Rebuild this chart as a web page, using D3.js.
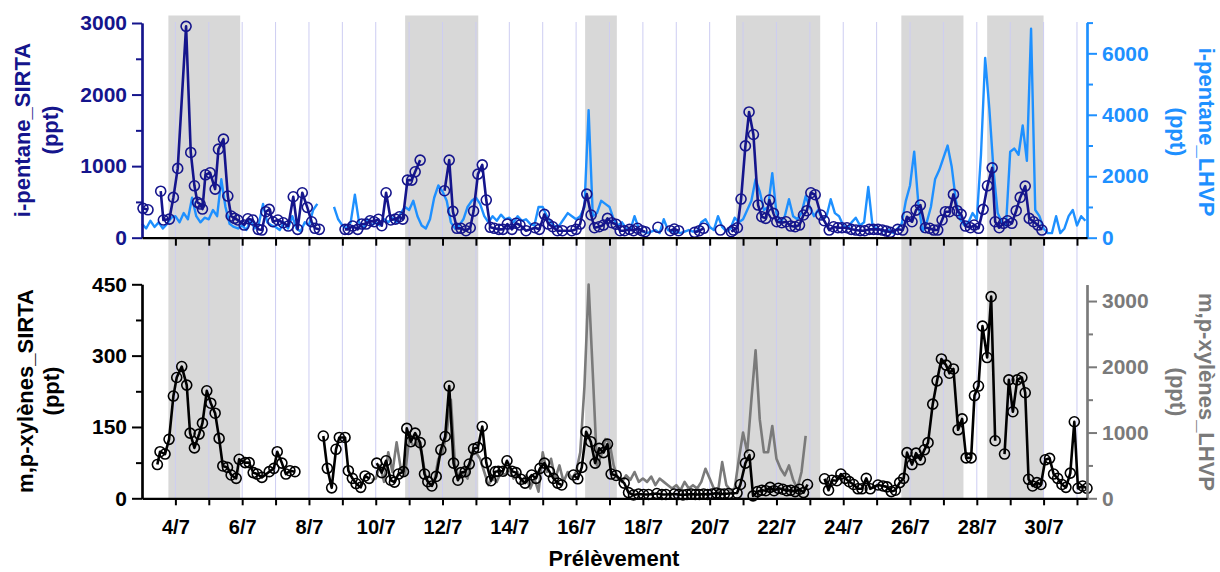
<!DOCTYPE html>
<html>
<head>
<meta charset="utf-8">
<script src="https://cdn.jsdelivr.net/npm/d3@7"></script>
<style>
  body { margin: 0; background: #fff; }
  svg text { font-family: "Liberation Sans", Arial, sans-serif; font-weight: bold; }
</style>
</head>
<body>
<div id="chart"></div>
<script>
// shaded periods (days of July)
var bandStart = [3.79, 10.88, 16.27, 20.79, 25.74, 28.31];
var bandEnd   = [5.94, 13.07, 17.22, 23.31, 27.60, 30.00];

var xLabels = ['4/7', '6/7', '8/7', '10/7', '12/7', '14/7', '16/7', '18/7', '20/7', '22/7', '24/7', '26/7', '28/7', '30/7'];

// i-pentane SIRTA (ppt), null = gap in the record
var ipSirtaDay = [3.03, 3.18, null,
  3.56, 3.64, 3.82, 3.94, 4.07, 4.32, 4.46, 4.57, 4.66, 4.74, 4.81, 4.90, 5.04, 5.19, 5.29, 5.44, 5.57, 5.67, 5.77, 5.87,
  6.06, 6.17, 6.32, 6.48, 6.59, 6.71, 6.81, 6.92, 7.07, 7.23, 7.38, 7.53, 7.66, 7.80, 7.95, 8.08, 8.18, 8.31, null,
  9.08, 9.18, 9.31, 9.46, 9.58, 9.71, 9.83, 9.95, 10.08, 10.18, 10.31, 10.45, 10.59, 10.71, 10.81, 10.95, 11.08, 11.18, 11.33, null,
  12.06, 12.20, 12.31, 12.43, 12.55, 12.70, 12.83, 12.93, 13.06, 13.19, 13.31, 13.43, 13.55, 13.69, 13.81, 13.94,
  14.08, 14.20, 14.32, 14.50, 14.77, 14.90, 15.05, 15.17, 15.30, 15.44, 15.59, 15.87, 16.00, 16.12, 16.32, 16.45,
  16.55, 16.69, 16.82, 16.94, 17.07, 17.20, 17.32, 17.45, 17.60, 17.72, 17.84, 17.97, 18.07, null,
  18.45, null, 18.82, 18.94, 19.07, null, 19.55, 19.69, 19.82, null, 20.32, null,
  20.65, 20.71, 20.83, 20.94, 21.07, 21.18, 21.31, 21.45, 21.56, 21.68, 21.79, 21.91, 22.01, 22.16, 22.29, 22.43,
  22.56, 22.69, 22.81, 22.91, 23.03, 23.16, 23.33, 23.43, 23.58, 23.71, 23.84, 23.96, 24.11, 24.24, 24.38, 24.51,
  24.64, 24.78, 24.91, 25.04, 25.17, 25.29, 25.41, 25.63, 25.78, 25.91, 26.06, 26.18, 26.31, 26.46, 26.59, 26.71,
  26.83, 26.96, 27.06, 27.18, 27.30, 27.41, 27.53, 27.66, 27.81, 27.92, 28.05, 28.19, 28.32, 28.46, 28.55, 28.67,
  28.80, 28.92, 29.05, 29.18, 29.30, 29.45, 29.57, 29.70, 29.83, 29.95];
var ipSirtaVal = [410, 390, null,
  650, 247, 260, 563, 968, 2953, 1191, 725, 494, 470, 400, 879, 907, 679, 1237, 1377, 582, 303, 270, 247,
  177, 265, 247, 117, 107, 363, 396, 223, 247, 209, 163, 572, 117, 628, 424, 223, 131, 117, null,
  117, 117, 163, 117, 191, 191, 237, 223, 257, 167, 628, 247, 260, 293, 260, 805, 805, 921, 1084, null,
  656, 1084, 368, 131, 131, 98, 139, 372, 888, 1018, 526, 145, 131, 117, 117, 191,
  117, 201, 177, 98, 139, 117, 326, 191, 153, 98, 98, 98, 117, 191, 609, 317,
  139, 153, 177, 270, 209, 187, 98, 98, 117, 98, 131, 98, 84, null,
  145, null, 98, 121, 98, null, 75, 98, 131, null, 107, null,
  84, 107, 139, 540, 1283, 1757, 1442, 456, 293, 270, 526, 340, 223, 209, 223, 163,
  153, 177, 317, 377, 628, 600, 317, 237, 107, 153, 139, 139, 139, 117, 107, 98,
  98, 117, 117, 117, 107, 93, 75, 117, 107, 293, 223, 386, 456, 139, 131, 107,
  107, 247, 363, 363, 605, 377, 326, 163, 139, 177, 131, 396, 725, 976, 223, 139,
  201, 237, 201, 377, 563, 721, 270, 223, 177, 107];

// i-pentane LHVP (ppt), 3-hourly from 3/7 00h
var ipLhvpStart = 3.0;
var ipLhvpStep = 0.125;
var ipLhvpVal = [
  450, 300, 550, 350, 500, 300, 450, 650,
  700, 500, 800, 600, 1300, 700, 500, 650,
  600, 900, 700, 1900, 1000, 450, 350, 300,
  400, 250, 550, 300, 450, 1100, 500, 400,
  350, 250, 500, 300, 700, 300, 200, 500,
  400, 900, 1100, null, null, null, 1000, 600,
  400, 300, 500, 1400, 500, 300, 600, 400,
  500, 400, 600, 500, 650, 500, 800, 1000,
  900, 1200, 700, 400, 300, 600, 1300, 1700,
  1500, 1200, 500, 300, 400, 600, 1000, 1200,
  1300, 1100, 700, 500, 700, 550, 750, 600,
  650, 500, 700, 550, 600, 450, 400, 1000,
  1000, 700, 500, 350, 400, 600, 800, 700,
  600, 700, 1000, 4150, 700, 800, 1200, 1100,
  1000, 600, 400, 500, 300, 250, 700, 300,
  200, 150, 200, 250, 150, 600, 250, 200,
  200, 150, 200, 250, 200, 200, 500, 600,
  350, 250, 700, 350, 200, 300, 650, 500,
  600, 900, 1200, 1900, 1500, 900, 1000, 2100,
  800, 500, 700, 1250, 700, 600, 800, 1350,
  1000, 700, 900, 600, 700, 1250, 800, 700,
  400, 300, 500, 650, 400, 500, 1650, 400,
  300, 250, 200, 250, 150, 300, 450, 1200,
  1700, 2800, 1100, 200, 500, 1000, 1900, 2200,
  2600, 3000, 2300, 1200, 600, 400, 500, 800,
  600, 2700, 5850, 4200, 2200, 800, 500, 400,
  2800, 2900, 2700, 3650, 2500, 6800, 900, 700,
  300, 150, 150, 700, 150, 300, 700, 900,
  400, 700, 550];

// m,p-xylenes SIRTA (ppt)
var xySirtaDay = [3.46, 3.54, 3.69, 3.81, 3.94, 4.04, 4.19, 4.34, 4.44, 4.57, 4.71, 4.81, 4.94, 5.06, 5.19, 5.31,
  5.42, 5.56, 5.67, 5.82, 5.91, 6.09, 6.21, 6.33, 6.45, 6.59, 6.81, 6.95, 7.05, 7.19, 7.31, 7.43, 7.58, null,
  8.43, 8.55, 8.68, 8.81, 8.91, 9.08, 9.18, 9.30, 9.41, 9.55, 9.68, 9.80, null,
  10.03, 10.18, 10.31, 10.45, 10.56, 10.68, 10.83, 10.93, 11.05, 11.18, 11.33, 11.46, 11.56, 11.68, 11.81, 11.95,
  12.08, 12.20, 12.33, 12.46, 12.55, 12.68, 12.80, 12.93, 13.06, 13.19, 13.31, 13.45, 13.58, 13.67, 13.81, 13.93,
  14.08, 14.20, 14.35, 14.47, 14.67, 14.80, 14.92, 15.05, 15.20, 15.32, 15.45, 15.57, null,
  15.92, 16.05, 16.17, 16.30, 16.44, 16.57, 16.69, 16.82, 16.94, 17.05, 17.20, 17.44, 17.57, 17.72,
  17.87, 18.02, 18.17, 18.42, 18.57, 18.69, 18.94, 19.07, 19.20, 19.32, 19.45, 19.57, 19.69, 19.82, 19.94, 20.07,
  20.20, 20.32, 20.44, 20.57, 20.82, 20.92, 21.07, 21.19, 21.30, 21.43, 21.56, 21.68, 21.81, 21.93, 22.06, 22.19,
  22.31, 22.43, 22.56, 22.69, 22.81, 22.93, null,
  23.44, 23.56, 23.66, 23.81, 23.93, 24.06, 24.18, 24.31, 24.44, 24.56, 24.69, 24.81, 25.04, 25.19, 25.31, 25.44,
  25.56, 25.69, 25.81, 25.91, 26.06, 26.18, 26.31, 26.43, 26.54, 26.68, 26.81, 26.94, 27.08, 27.18, 27.30, 27.44,
  27.56, 27.68, 27.83, 27.93, 28.05, 28.17, 28.31, 28.43, 28.55, null,
  28.83, 28.96, 29.08, 29.21, 29.35, 29.45, 29.55, 29.67, 29.80, 29.92, 30.05, 30.18, 30.30, 30.42, 30.55, 30.67,
  30.80, 30.92, 31.03, 31.17, 31.30];
var xySirtaVal = [71, 98, 93, 124, 215, 254, 277, 238, 137, 106, 135, 158, 226, 200, 179, 126,
  68, 65, 49, 42, 82, 75, 75, 54, 51, 44, 56, 63, 98, 74, 51, 58, 56, null,
  131, 63, 22, 103, 128, 128, 58, 42, 31, 23, 47, 42, null,
  74, 54, 79, 38, 34, 51, 56, 147, 119, 137, 117, 51, 35, 26, 46, 102,
  130, 236, 74, 38, 54, 56, 72, 104, 107, 151, 75, 37, 56, 57, 57, 79,
  57, 54, 40, 32, 49, 42, 63, 74, 56, 42, 32, 28, null,
  49, 41, 65, 140, 119, 74, 105, 96, 114, 51, 48, 32, 12, 7,
  9, 8, 8, 10, 8, 8, 9, 8, 7, 8, 9, 8, 8, 9, 8, 9,
  11, 9, 9, 10, 11, 29, 74, 91, 5, 14, 17, 16, 23, 16, 21, 19,
  16, 17, 14, 19, 12, 29, null,
  41, 17, 38, 37, 51, 42, 35, 29, 20, 20, 42, 20, 28, 26, 24, 14,
  17, 33, 42, 96, 71, 95, 81, 102, 117, 198, 247, 293, 280, 263, 272, 144,
  167, 85, 85, 216, 236, 362, 296, 424, 121, null,
  93, 249, 182, 249, 254, 222, 40, 26, 33, 29, 81, 84, 51, 42, 29, 23,
  53, 161, 21, 26, 21];

// m,p-xylenes LHVP (ppt), 3-hourly from 9/7 21h
var xyLhvpStart = 9.875;
var xyLhvpStep = 0.125;
var xyLhvpVal = [280,
  300, 500, 250, 700, 400, 850, 450, 350,
  900, 800, 850, 700, 300, 200, 250, 600,
  700, 1000, 1500, 500, 300, 400, 300, 650,
  700, 600, 400, 200, 300, 250, 400, 350,
  450, 300, 400, 250, 350, 150, 300, 100,
  700, 400, 600, 300, 500, 250, 400, 300,
  400, 700, 1700, 3250, 1900, 500, 650, 900,
  850, 500, 300, 250, 350, 280, 400, 250,
  300, 250, 330, 200, 300, 250, 200, 150,
  200, 120, 250, 150, 200, 150, 250, 450,
  300, 150, 100, 550, 200, 120, 150, 600,
  1000, 700, 1500, 2250, 1200, 700, 700, 1100,
  600, 450, 350, 500, 280, 150, 400, 950];

var navy = '#15158c', sky = '#1e90ff', grey = '#7a7a7a';

var svg = d3.select('#chart').append('svg')
    .attr('width', 1220)
    .attr('height', 572);

var x = d3.scaleLinear().domain([3.0, 31.3]).range([142, 1087]);
var yTL = d3.scaleLinear().domain([0, 3000]).range([237.7, 23]);
var yTR = d3.scaleLinear().domain([0, 7000]).range([237.7, 22.6]);
var yBL = d3.scaleLinear().domain([0, 450]).range([498.3, 284.3]);
var yBR = d3.scaleLinear().domain([0, 3250]).range([498.3, 284.6]);

function pairs(days, vals) {
    return vals.map(function (v, i) { return {d: days[i], v: v}; });
}
function regular(start, step, vals) {
    return vals.map(function (v, i) { return {d: start + i * step, v: v}; });
}

// shaded periods
svg.selectAll('rect.band')
    .data(bandStart)
    .enter()
    .append('rect')
    .attr('x', function (d) { return x(d); })
    .attr('width', function (d, i) { return x(bandEnd[i]) - x(d); })
    .attr('y', 15.5)
    .attr('height', 498.3 - 15.5)
    .style('fill', '#d8d8d8');

// daily grid lines
var days = d3.range(4, 32);
svg.selectAll('line.grid')
    .data(days)
    .enter()
    .append('line')
    .attr('x1', function (d) { return x(d); })
    .attr('x2', function (d) { return x(d); })
    .attr('y1', 22)
    .attr('y2', 498)
    .style('stroke', '#cdcdf2')
    .style('stroke-width', 1);

function drawLine(data, xs, ys, color, width) {
    var line = d3.line()
        .defined(function (d) { return d.v != null; })
        .x(function (d) { return xs(d.d); })
        .y(function (d) { return ys(d.v); });
    svg.append('path')
        .datum(data)
        .attr('d', line)
        .style('fill', 'none')
        .style('stroke', color)
        .style('stroke-width', width)
        .style('stroke-linejoin', 'round');
}
function drawMarkers(data, ys, color) {
    svg.append('g').selectAll('circle')
        .data(data.filter(function (d) { return d.v != null; }))
        .enter()
        .append('circle')
        .attr('cx', function (d) { return x(d.d); })
        .attr('cy', function (d) { return ys(d.v); })
        .attr('r', 5)
        .style('fill', 'none')
        .style('stroke', color)
        .style('stroke-width', 1.6);
}

// top panel
drawLine(regular(ipLhvpStart, ipLhvpStep, ipLhvpVal), x, yTR, sky, 2.4);
var ipS = pairs(ipSirtaDay, ipSirtaVal);
drawLine(ipS, x, yTL, navy, 2.6);
drawMarkers(ipS, yTL, navy);

// bottom panel
drawLine(regular(xyLhvpStart, xyLhvpStep, xyLhvpVal), x, yBR, grey, 2.6);
var xyS = pairs(xySirtaDay, xySirtaVal);
drawLine(xyS, x, yBL, '#000', 2.6);
drawMarkers(xyS, yBL, '#000');

// axes
function styleAxis(g, color, fontSize) {
    g.selectAll('path').style('stroke', color).style('stroke-width', 2.2);
    g.selectAll('line').style('stroke', color).style('stroke-width', 2);
    g.selectAll('text').style('fill', color).style('font-size', fontSize + 'px');
}

function yAxis(scale, side, xpos, major, minor, color) {
    var make = side === 'left' ? d3.axisLeft : d3.axisRight;
    var gMinor = svg.append('g').attr('transform', 'translate(' + xpos + ',0)')
        .call(make(scale).tickValues(minor).tickSize(6).tickSizeOuter(0).tickFormat(''));
    styleAxis(gMinor, color, 21);
    var gMajor = svg.append('g').attr('transform', 'translate(' + xpos + ',0)')
        .call(make(scale).tickValues(major).tickSize(10).tickSizeOuter(0).tickPadding(5).tickFormat(d3.format('d')));
    styleAxis(gMajor, color, 21);
}

yAxis(yTL, 'left', 142, [0, 1000, 2000, 3000], [500, 1500, 2500], navy);
yAxis(yTR, 'right', 1087, [0, 2000, 4000, 6000], [1000, 3000, 5000, 7000], sky);
yAxis(yBL, 'left', 142, [0, 150, 300, 450], [75, 225, 375], '#000');
yAxis(yBR, 'right', 1087, [0, 1000, 2000, 3000], [500, 1500, 2500], grey);

var gTopX = svg.append('g').attr('transform', 'translate(0,237.7)')
    .call(d3.axisBottom(x).tickValues(days).tickSize(8).tickSizeOuter(0).tickFormat(''));
styleAxis(gTopX, '#000', 20);

var labelDay = xLabels.map(function (s) { return +s.split('/')[0]; });
var gBotX = svg.append('g').attr('transform', 'translate(0,498.3)')
    .call(d3.axisBottom(x).tickValues(days).tickSize(7).tickSizeOuter(0).tickPadding(15)
        .tickFormat(function (d) {
            var k = labelDay.indexOf(d);
            return k >= 0 ? xLabels[k] : '';
        }));
styleAxis(gBotX, '#000', 20);

// titles
function title(lines, xs, y, angle, color) {
    lines.forEach(function (t, i) {
        svg.append('text')
            .attr('transform', 'translate(' + xs[i] + ',' + y + ') rotate(' + angle + ')')
            .attr('text-anchor', 'middle')
            .attr('dy', '0.35em')
            .style('font-size', '22px')
            .style('fill', color)
            .text(t);
    });
}
title(['i-pentane_SIRTA', '(ppt)'], [22, 50], 130, -90, navy);
title(['m,p-xylènes_SIRTA', '(ppt)'], [25, 51], 391, -90, '#000');
title(['i-pentane_LHVP', '(ppt)'], [1207, 1178], 132, 90, sky);
title(['m,p-xylènes_LHVP', '(ppt)'], [1207, 1178], 392, 90, grey);

svg.append('text')
    .attr('x', 614)
    .attr('y', 566)
    .attr('text-anchor', 'middle')
    .style('font-size', '22px')
    .text('Prélèvement');
</script>
</body>
</html>
